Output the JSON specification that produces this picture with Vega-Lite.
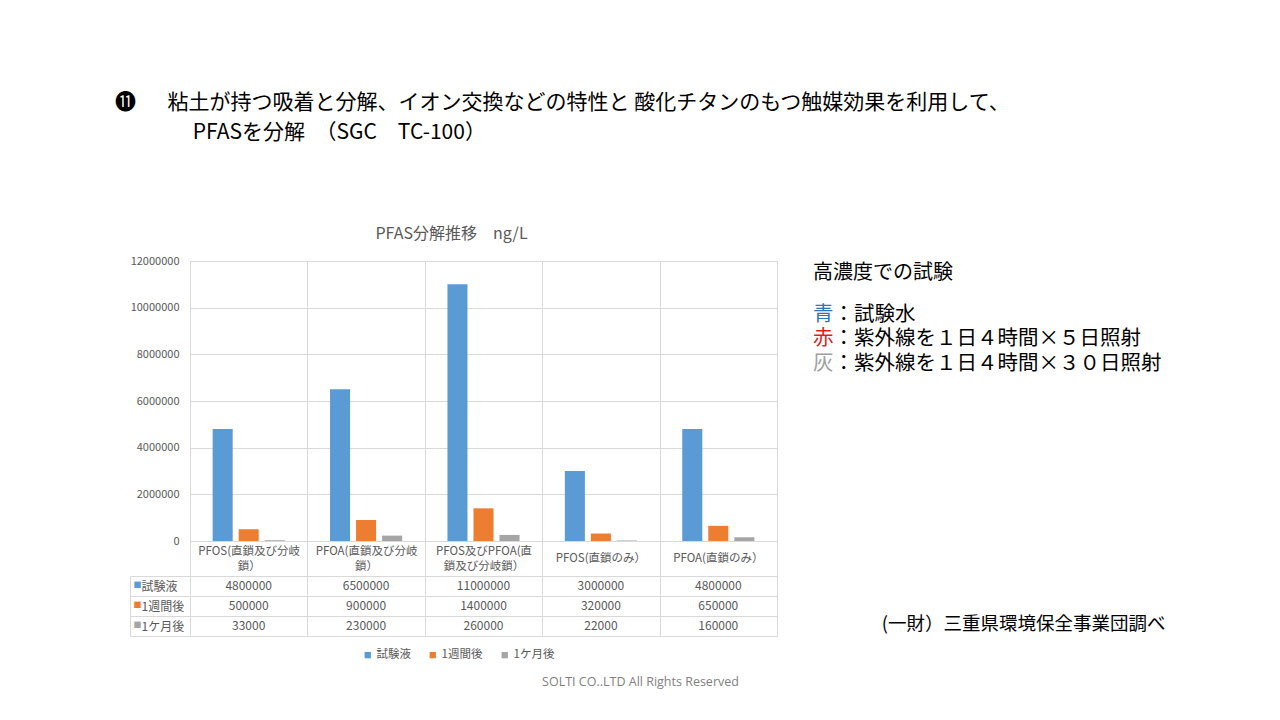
{
  "$schema": "https://vega.github.io/schema/vega-lite/v6.json",
  "padding": {"left": 115, "top": 91, "right": 5, "bottom": 5},
  "background": "#ffffff",
  "config": {
    "font": "Noto Sans CJK JP",
    "view": {"stroke": null},
    "axis": {"labelFont": "Noto Sans CJK JP", "titleFont": "Noto Sans CJK JP"},
    "legend": {"labelFont": "Noto Sans CJK JP"},
    "title": {"font": "Noto Sans CJK JP", "fontWeight": "normal"}
  },
  "datasets": {
    "pfas": [
      {"cat": "PFOS(直鎖及び分岐鎖）", "series": "試験液", "value": 4800000},
      {"cat": "PFOA(直鎖及び分岐鎖）", "series": "試験液", "value": 6500000},
      {"cat": "PFOS及びPFOA(直鎖及び分岐鎖）", "series": "試験液", "value": 11000000},
      {"cat": "PFOS(直鎖のみ）", "series": "試験液", "value": 3000000},
      {"cat": "PFOA(直鎖のみ）", "series": "試験液", "value": 4800000},
      {"cat": "PFOS(直鎖及び分岐鎖）", "series": "1週間後", "value": 500000},
      {"cat": "PFOA(直鎖及び分岐鎖）", "series": "1週間後", "value": 900000},
      {"cat": "PFOS及びPFOA(直鎖及び分岐鎖）", "series": "1週間後", "value": 1400000},
      {"cat": "PFOS(直鎖のみ）", "series": "1週間後", "value": 320000},
      {"cat": "PFOA(直鎖のみ）", "series": "1週間後", "value": 650000},
      {"cat": "PFOS(直鎖及び分岐鎖）", "series": "1ケ月後", "value": 33000},
      {"cat": "PFOA(直鎖及び分岐鎖）", "series": "1ケ月後", "value": 230000},
      {"cat": "PFOS及びPFOA(直鎖及び分岐鎖）", "series": "1ケ月後", "value": 260000},
      {"cat": "PFOS(直鎖のみ）", "series": "1ケ月後", "value": 22000},
      {"cat": "PFOA(直鎖のみ）", "series": "1ケ月後", "value": 160000}
    ],
    "notes": [
      {"head": "青", "rest": "\u200b\u3000：試験水"},
      {"head": "赤", "rest": "\u200b\u3000：紫外線を１日４時間×５日照射"},
      {"head": "灰", "rest": "\u200b\u3000：紫外線を１日４時間×３０日照射"}
    ]
  },
  "title": {
    "text": ["⓫\u3000\u2002粘土が持つ吸着と分解、イオン交換などの特性と 酸化チタンのもつ触媒効果を利用して、", "\u200b\u3000\u3000\u3000\u2002\u2009PFASを分解\u3000（SGC\u3000TC-100）"],
    "anchor": "start",
    "frame": "group",
    "dx": -75,
    "fontSize": 21,
    "fontWeight": "normal",
    "color": "#000000",
    "lineHeight": 30,
    "offset": 83
  },
  "resolve": {"scale": {"color": "independent"}, "legend": {"color": "independent"}},
  "bounds": "flush",
  "align": "none",
  "columns": 2,
  "spacing": {"row": 35, "column": 36},
  "concat": [
    {
      "width": 587,
      "height": 280,
      "view": {"stroke": "#D9D9D9"},
      "title": {"text": "PFAS分解推移　ng/L", "fontSize": 16, "color": "#595959", "fontWeight": "normal", "anchor": "middle", "frame": "group", "offset": 13, "dx": -32},
      "data": {"name": "pfas"},
      "layer": [
        {
          "mark": {"type": "bar"},
          "encoding": {
            "x": {
              "field": "cat", "type": "nominal",
              "sort": ["PFOS(直鎖及び分岐鎖）", "PFOA(直鎖及び分岐鎖）", "PFOS及びPFOA(直鎖及び分岐鎖）", "PFOS(直鎖のみ）", "PFOA(直鎖のみ）"],
              "scale": {"paddingInner": 0, "paddingOuter": 0},
              "axis": {
                "orient": "bottom", "title": null, "domain": false, "grid": true, "gridColor": "#D9D9D9", "tickBand": "extent",
                "ticks": true, "tickSize": 35, "tickColor": "#D9D9D9",
                "labelAngle": 0, "labelPadding": -25, "labelBaseline": "middle", "labelLineHeight": 15,
                "labelFontSize": 11.5, "labelColor": "#595959", "labelLimit": 0,
                "labelExpr": "datum.label == 'PFOS(直鎖及び分岐鎖）' ? ['PFOS(直鎖及び分岐', '鎖）'] : datum.label == 'PFOA(直鎖及び分岐鎖）' ? ['PFOA(直鎖及び分岐', '鎖）'] : datum.label == 'PFOS及びPFOA(直鎖及び分岐鎖）' ? ['PFOS及びPFOA(直', '鎖及び分岐鎖）'] : ''"
              }
            },
            "xOffset": {"field": "series", "type": "nominal", "sort": ["試験液", "1週間後", "1ケ月後"], "scale": {"paddingInner": 0.23, "paddingOuter": 0.87}},
            "y": {
              "field": "value", "type": "quantitative",
              "scale": {"domain": [0, 12000000], "nice": false},
              "axis": {
                "title": null, "values": [0, 2000000, 4000000, 6000000, 8000000, 10000000, 12000000], "format": "d",
                "grid": true, "gridColor": "#D9D9D9", "domain": false, "ticks": false,
                "labelPadding": 11, "labelFontSize": 11, "labelColor": "#595959"
              }
            },
            "color": {
              "field": "series", "type": "nominal",
              "scale": {"domain": ["試験液", "1週間後", "1ケ月後"], "range": ["#5B9BD5", "#ED7D31", "#A5A5A5"]},
              "legend": {
                "title": null, "orient": "none", "legendX": 172, "legendY": 388, "direction": "horizontal",
                "symbolType": "square", "symbolSize": 40, "symbolStrokeWidth": 0,
                "labelFontSize": 11.5, "labelColor": "#595959", "labelOffset": 3, "columnPadding": 16
              }
            }
          }
        },
        {
          "mark": {"type": "text", "opacity": 0},
          "encoding": {
            "x": {
              "field": "cat", "type": "nominal",
              "sort": ["PFOS(直鎖及び分岐鎖）", "PFOA(直鎖及び分岐鎖）", "PFOS及びPFOA(直鎖及び分岐鎖）", "PFOS(直鎖のみ）", "PFOA(直鎖のみ）"],
              "axis": {
                "orient": "bottom", "title": null, "domain": false, "grid": false, "ticks": false,
                "labelAngle": 0, "labelPadding": 17, "labelBaseline": "middle",
                "labelFontSize": 11.5, "labelColor": "#595959", "labelLimit": 0,
                "labelExpr": "datum.label == 'PFOS(直鎖のみ）' || datum.label == 'PFOA(直鎖のみ）' ? datum.label : ''"
              }
            },
            "y": {"field": "value", "type": "quantitative"},
            "text": {"field": "series"}
          }
        }
      ],
      "resolve": {"axis": {"x": "independent"}}
    },
    {
      "width": 352,
      "height": 122.5,
      "title": {"text": "高濃度での試験", "anchor": "start", "frame": "group", "fontSize": 20, "color": "#000000", "fontWeight": "normal", "offset": 0, "dy": 22},
      "data": {"name": "notes"},
      "layer": [
        {
          "mark": {"type": "text", "align": "left", "baseline": "middle", "fontSize": 20.5, "color": "#000000"},
          "encoding": {
            "x": {
              "datum": 0, "type": "quantitative", "scale": {"domain": [0, 1]},
              "axis": {
                "title": "(一財）三重県環境保全事業団調べ", "titleAnchor": "end", "titlePadding": 230.5, "titleFontSize": 18.5,
                "titleFontWeight": "normal", "titleColor": "#000000", "labels": false, "ticks": false, "domain": false, "grid": false
              }
            },
            "y": {"field": "head", "type": "nominal", "sort": ["青", "赤", "灰"], "scale": {"type": "band", "paddingInner": 0, "paddingOuter": 1, "align": 0.85}, "axis": null},
            "text": {"field": "rest"}
          }
        },
        {
          "mark": {"type": "text", "align": "left", "baseline": "middle", "fontSize": 20.5},
          "encoding": {
            "x": {"datum": 0, "type": "quantitative"},
            "y": {"field": "head", "type": "nominal", "sort": ["青", "赤", "灰"]},
            "text": {"field": "head"},
            "color": {"field": "head", "type": "nominal", "scale": {"domain": ["青", "赤", "灰"], "range": ["#2E75B6", "#E21B1B", "#A0A0A0"]}, "legend": null}
          }
        }
      ]
    },
    {
      "width": 587,
      "height": 60,
      "view": {"stroke": "#D9D9D9"},
      "data": {"name": "pfas"},
      "layer": [
        {
          "mark": {"type": "text", "fontSize": 12, "color": "#595959", "baseline": "middle"},
          "encoding": {
            "x": {
              "field": "cat", "type": "nominal",
              "sort": ["PFOS(直鎖及び分岐鎖）", "PFOA(直鎖及び分岐鎖）", "PFOS及びPFOA(直鎖及び分岐鎖）", "PFOS(直鎖のみ）", "PFOA(直鎖のみ）"],
              "scale": {"paddingInner": 0, "paddingOuter": 0},
              "axis": {
                "grid": true, "gridColor": "#D9D9D9", "tickBand": "extent", "labels": false, "ticks": false, "domain": false,
                "title": "SOLTI CO..LTD All Rights Reserved", "titleFont": "Open Sans", "titleFontSize": 12.5, "titleColor": "#7F7F7F",
                "titleFontWeight": "normal", "titleX": 450, "titleY": 45, "titleAlign": "center", "titleBaseline": "middle"
              }
            },
            "y": {
              "field": "series", "type": "nominal", "sort": ["試験液", "1週間後", "1ケ月後"],
              "scale": {"paddingInner": 0, "paddingOuter": 0},
              "axis": {
                "title": null, "orient": "left", "grid": true, "gridColor": "#D9D9D9", "tickBand": "extent",
                "ticks": true, "tickSize": 60, "tickColor": "#D9D9D9", "domain": false,
                "labelAlign": "left", "labelPadding": -11, "labelFontSize": 12, "labelColor": "#595959", "labelBaseline": "middle"
              }
            },
            "text": {"field": "value", "type": "quantitative", "format": "d"}
          }
        },
        {
          "mark": {"type": "text", "opacity": 0},
          "encoding": {
            "y": {
              "field": "series", "type": "nominal", "sort": ["試験液", "1週間後", "1ケ月後"],
              "scale": {"paddingInner": 0, "paddingOuter": 0},
              "axis": {
                "title": null, "orient": "left", "offset": 60, "domain": true, "domainColor": "#D9D9D9",
                "ticks": false, "grid": false, "labelExpr": "'■'", "labelAlign": "left", "labelPadding": -3,
                "labelFontSize": 8, "labelBaseline": "middle",
                "labelColor": {"condition": [{"test": "datum.value === '試験液'", "value": "#5B9BD5"}, {"test": "datum.value === '1週間後'", "value": "#ED7D31"}], "value": "#A5A5A5"}
              }
            },
            "text": {"field": "series"}
          }
        }
      ],
      "resolve": {"axis": {"y": "independent"}}
    }
  ]
}
